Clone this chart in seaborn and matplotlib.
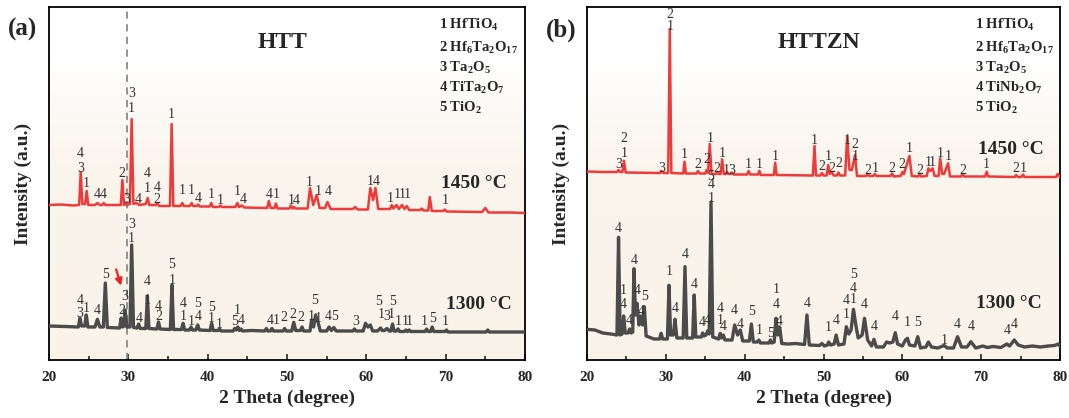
import numpy as np
import pandas as pd
import matplotlib
matplotlib.use("Agg")
import matplotlib.pyplot as plt
from matplotlib.colors import LinearSegmentedColormap
from matplotlib.ticker import MultipleLocator
import seaborn as sns

sns.set_style("ticks")
plt.rcParams['font.family'] = ['Liberation Serif', 'DejaVu Serif']
plt.rcParams['mathtext.fontset'] = 'custom'
plt.rcParams['mathtext.rm'] = 'Liberation Serif:bold'
plt.rcParams['mathtext.bf'] = 'Liberation Serif:bold'
plt.rcParams['mathtext.default'] = 'bf'

# ---------------- data (2 theta, intensity a.u.) ----------------
# (a) HTT, 1450 C
htt_1450_x = [20, 21.5, 23.0, 23.8, 24.0, 24.2, 24.55, 24.75, 24.95, 25.8, 26.1, 26.4, 26.7, 26.9, 27.1,
              29.05, 29.25, 29.45, 29.6, 29.8, 30.2, 30.42, 30.64, 31.0, 31.2, 31.4, 32.2, 32.44, 32.65,
              33.45, 33.66, 33.85, 35.25, 35.46, 35.67, 36.6, 36.8, 37.0, 37.75, 37.98, 38.15, 38.6, 38.8,
              39.0, 40.25, 40.46, 40.65, 41.4, 41.6, 41.8, 43.5, 43.74, 43.95, 44.3, 44.6, 47.5, 47.7,
              47.95, 48.4, 48.6, 48.8, 50.3, 50.5, 50.7, 50.9, 51.1, 52.6, 52.9, 53.3, 53.75, 54.1, 54.8,
              55.1, 55.5, 58.3, 58.6, 58.9, 60.2, 60.5, 60.85, 61.15, 61.5, 63.0, 63.2, 63.4, 63.8, 64.1,
              64.5, 64.8, 65.1, 65.4, 66.8, 67.0, 67.2, 67.8, 68.0, 68.25, 69.7, 69.9, 70.1, 74.6, 75.0,
              75.4, 78.0, 80]
htt_1450_y = [155, 155.5, 154.5, 155, 188, 156, 156, 169, 155, 155, 157, 155, 155, 157, 155,
              155, 180, 155, 157, 155, 156, 241, 156, 157, 156, 155, 156, 162, 155,
              155, 157, 154, 154, 236, 154, 154, 157, 154, 154, 157, 154, 154, 155.5,
              153.5, 153.5, 157, 153, 153, 154.5, 153, 153, 157, 153, 154.5, 152.5, 152, 159,
              152, 152, 156.5, 151.5, 151.5, 154.5, 151.5, 153, 151.5, 151.5, 172, 155, 165, 152, 152,
              158, 151, 151, 153, 150.5, 150.5, 172, 160, 172, 151, 151, 155, 151.5, 155, 151,
              155, 151, 154, 150, 150, 151.5, 149.5, 149.5, 163, 149, 149, 150.5, 148.5, 148, 152,
              147.5, 147.5, 147]
htt_1450_labels = [("3", 24.0, 191.7), ("4", 24.0, 206.7), ("1", 24.75, 176.7), ("4", 26.1, 165),
                   ("4", 26.9, 165), ("2", 29.24, 186.7), ("3", 29.8, 160.7), ("1", 30.42, 251.7),
                   ("3", 30.42, 266.7), ("4", 31.2, 160.7), ("1", 32.44, 171.7), ("4", 32.44, 186.7),
                   ("2", 33.66, 160.7), ("4", 33.66, 172.7), ("1", 35.46, 246), ("1", 36.8, 169.3),
                   ("1", 37.9, 169.3), ("4", 38.8, 161.7), ("1", 40.46, 165), ("1", 41.6, 159.3),
                   ("1", 43.7, 168.3), ("4", 44.45, 160.7), ("4", 47.7, 165), ("1", 48.65, 165),
                   ("1", 50.5, 160), ("4", 51.2, 160), ("1", 52.8, 177.3), ("1", 53.9, 168.3),
                   ("4", 55.2, 168.3), ("1", 60.5, 178.3), ("4", 61.2, 178.3), ("1", 63.0, 162),
                   ("1", 63.9, 166), ("1", 64.5, 166), ("1", 65.2, 166), ("1", 69.9, 160)]

# (a) HTT, 1300 C
htt_1300_x = [20, 22, 23.7, 23.9, 24.1, 24.5, 24.7, 24.9, 25.8, 26.1, 26.4, 26.85, 27.1, 27.35,
              28.9, 29.1, 29.3, 29.45, 29.6, 29.8, 30.2, 30.42, 30.65, 31.1, 31.3, 31.5, 32.2, 32.4,
              32.6, 33.6, 33.8, 34.0, 35.3, 35.5, 35.7, 36.7, 36.9, 37.1, 37.7, 37.9, 38.1, 38.5,
              38.75, 38.95, 40.3, 40.5, 40.7, 41.3, 41.5, 41.7, 43.2, 43.4, 43.6, 43.8, 44.0, 44.2,
              44.4, 45.5, 47.2, 47.4, 47.6, 47.9, 48.1, 48.3, 49.5, 49.7, 49.9, 50.6, 50.85, 51.1,
              51.7, 51.9, 52.1, 52.9, 53.1, 53.35, 53.6, 53.9, 54.2, 55.0, 55.3, 55.6, 55.9, 56.2,
              58.3, 58.5, 58.7, 59.6, 59.9, 60.2, 60.5, 60.8, 61.4, 61.8, 62.0, 62.3, 62.6, 62.9,
              63.1, 63.3, 63.5, 63.8, 64.0, 64.2, 64.8, 65.0, 65.2, 65.4, 65.6, 67.4, 67.6, 67.8,
              68.1, 68.3, 68.5, 69.9, 70.1, 70.3, 75.1, 75.3, 75.5, 80]
htt_1300_y = [34, 33.5, 33, 41.7, 34, 34, 45, 33, 33, 40.7, 33, 33, 77, 32.5,
              32, 42, 33, 34, 50, 33, 33, 115, 32.5, 32, 36, 31.5, 31.5, 64,
              31.5, 31, 38, 31, 30.5, 75, 30.5, 30.5, 36.7, 30, 30, 33, 30, 30,
              35, 30, 29.5, 36.7, 29.5, 29.5, 31, 29, 29, 31.5, 30, 33, 29.5, 31,
              29, 29.5, 29, 31.5, 29, 29, 31.5, 29, 29, 31.5, 29, 29, 37.7, 29.5,
              29.5, 33, 29, 29, 40, 33, 45, 38, 29, 29, 33, 29.5, 32.5, 29,
              29, 31, 29, 29, 36.7, 33, 35, 29, 29, 32, 29.5, 29.5, 31.5, 29,
              29, 36, 29, 29, 31, 28.5, 28.5, 30, 28.5, 30, 28.5, 28.5, 31, 28.5,
              28.5, 33, 28.5, 28.5, 30, 28, 28, 30, 28, 28]
htt_1300_labels = [("3", 23.9, 46.7), ("4", 23.9, 60), ("1", 24.75, 51.7), ("4", 26.1, 50),
                   ("5", 27.1, 85), ("2", 29.15, 50), ("3", 29.6, 63.3), ("1", 30.42, 121.7),
                   ("3", 30.42, 135), ("4", 31.35, 41.7), ("1", 32.4, 60), ("4", 32.4, 78.3),
                   ("2", 33.8, 43.3), ("4", 33.8, 54), ("1", 35.5, 80), ("5", 35.5, 95),
                   ("1", 36.9, 43.3), ("4", 36.9, 56.7), ("1", 37.9, 38.3), ("4", 38.75, 43.3),
                   ("5", 38.75, 56.7), ("1", 40.5, 41.7), ("5", 40.5, 52.7), ("1", 41.5, 36),
                   ("5", 43.4, 38.3), ("1", 43.75, 50), ("4", 44.25, 40), ("4", 47.9, 40),
                   ("1", 48.6, 40), ("2", 49.65, 42.7), ("2", 50.75, 46), ("2", 51.75, 42.7),
                   ("1", 53.1, 43.3), ("5", 53.5, 60), ("1", 54.0, 41.7), ("4", 55.2, 43.3),
                   ("5", 56.0, 43.3), ("3", 58.6, 38.3), ("5", 61.6, 58.3), ("1", 61.9, 45),
                   ("3", 62.6, 43.3), ("1", 63.2, 45), ("5", 63.3, 58.3), ("1", 64.0, 38.3),
                   ("1", 64.9, 38.3), ("1", 65.4, 38.3), ("1", 67.3, 38.3), ("5", 68.3, 41.7),
                   ("1", 69.9, 38.3)]

# (b) HTTZN, 1450 C
httzn_1450_x = [20, 22, 23.8, 24.0, 24.2, 24.5, 24.68, 24.9, 29.3, 29.5, 29.7, 30.3, 30.5, 30.7,
                32.2, 32.37, 32.55, 33.9, 34.08, 34.3, 35.0, 35.17, 35.35, 35.57, 35.8, 36.35, 36.53,
                36.7, 36.95, 37.14, 37.35, 37.6, 37.75, 37.95, 38.2, 38.4, 38.6, 40.3, 40.5, 40.7,
                41.7, 41.86, 42.05, 43.7, 43.87, 44.05, 48.65, 48.86, 49.05, 49.6, 49.8, 50.0, 50.4,
                50.6, 50.8, 51.05, 51.3, 51.7, 51.9, 52.1, 52.75, 53.0, 53.3, 53.6, 54.0, 54.25, 55.4,
                55.6, 55.8, 56.3, 56.5, 56.7, 58.5, 58.7, 58.9, 59.8, 60.0, 60.2, 60.9, 61.2, 62.0,
                62.2, 62.4, 63.1, 63.3, 63.55, 63.85, 64.1, 64.6, 64.8, 65.05, 65.3, 65.8, 66.05,
                67.45, 67.66, 67.85, 70.5, 70.7, 70.9, 74.25, 74.44, 74.65, 75.1, 75.3, 75.5, 79.5,
                79.7, 80]
httzn_1450_y = [188.5, 188, 188, 190, 188, 188, 199.3, 187.5, 187, 189, 187, 187, 331, 187,
                186.5, 198.3, 186.5, 186.5, 189, 186.5, 186.5, 190, 187, 216, 186, 186, 188,
                186, 186, 200.7, 186, 186, 188, 186, 186, 187.5, 185.5, 185.5, 189, 185.5,
                185.5, 189.3, 185, 185, 197.3, 185, 184.5, 214, 184.5, 184.5, 187, 184.5, 184.5,
                195, 186, 188, 184.5, 184.5, 187.5, 184.5, 184.5, 223.3, 190, 190, 205, 184, 184,
                186, 184, 184, 186, 184, 184, 186.5, 183.5, 184, 188, 186, 204, 184, 183.5,
                186, 183.5, 184, 191.7, 189, 191.7, 184, 184, 201.7, 186, 186, 196.7, 183.5,
                183.5, 186, 183.5, 183.5, 188.3, 183.5, 183, 185, 183, 183, 185.5, 183, 183,
                186, 183]
httzn_1450_labels = [("3", 24.0, 196), ("1", 24.68, 206.7), ("2", 24.68, 221.7), ("3", 29.5, 191.7),
                     ("1", 30.5, 333), ("2", 30.5, 346), ("1", 32.37, 205), ("2", 34.08, 195),
                     ("2", 35.17, 200.7), ("1", 35.57, 221.7), ("2", 36.53, 191.7), ("1", 37.14, 206.7),
                     ("1", 37.7, 190), ("3", 38.4, 190), ("1", 40.5, 195), ("1", 41.86, 196),
                     ("1", 43.87, 204), ("1", 48.86, 219.3), ("2", 49.8, 193.3), ("1", 50.6, 203.3),
                     ("2", 51.05, 191.7), ("2", 51.9, 196.7), ("1", 53.0, 220), ("1", 54.0, 203.3),
                     ("2", 54.0, 215), ("2", 55.6, 190), ("1", 56.5, 191.7), ("2", 58.7, 191),
                     ("2", 60.0, 195), ("1", 60.9, 211.7), ("2", 62.2, 190), ("1", 63.3, 197.3),
                     ("1", 63.85, 197.3), ("1", 64.8, 206.7), ("1", 65.8, 204), ("2", 67.66, 190),
                     ("1", 70.7, 196), ("2", 74.44, 191.7), ("1", 75.3, 191.7)]

# (b) HTTZN, 1300 C
httzn_1300_x = [20, 21, 22, 23, 23.8, 24.0, 24.2, 24.45, 24.65, 24.85, 25.2, 25.4, 25.6, 25.8, 25.96,
                26.15, 26.34, 26.6, 26.85, 27.05, 27.27, 27.5, 28.5, 29.2, 29.4, 29.6, 30.2, 30.4, 30.6,
                30.95, 31.16, 31.4, 32.2, 32.43, 32.65, 33.4, 33.6, 33.8, 34.5, 34.67, 34.85, 35.1,
                35.3, 35.5, 35.73, 35.95, 36.7, 36.9, 37.1, 37.3, 37.5, 38.4, 38.73, 39.1, 39.45,
                39.75, 40.6, 40.85, 41.1, 41.6, 41.8, 42.0, 43.1, 43.26, 43.45, 43.75, 43.97, 44.2,
                44.44, 44.7, 45.5, 46.5, 47.6, 47.9, 48.2, 49.5, 49.8, 50.1, 50.5, 50.65, 50.9, 51.35,
                51.6, 51.9, 52.6, 52.9, 53.2, 53.5, 53.8, 54.1, 54.4, 54.9, 55.2, 55.6, 56.1, 56.4,
                56.7, 57.6, 58.0, 58.4, 58.8, 59.1, 59.4, 60.0, 60.4, 60.65, 60.9, 61.6, 61.96, 62.3,
                63.0, 63.3, 63.7, 64.5, 65.3, 65.7, 66.5, 67.0, 67.5, 68.2, 68.7, 69.3, 70.2, 70.8,
                71.5, 72.5, 73.26, 73.6, 74.2, 74.7, 75.5, 76.5, 77.5, 78.5, 79.3, 79.8, 80]
httzn_1300_y = [30.7, 30, 27, 26, 25, 122.7, 25, 26, 44, 27, 27, 31, 27, 28, 91.3,
                45, 56.7, 35, 44, 35, 53.3, 24, 21, 21, 26.7, 21, 21, 74.7, 25,
                25, 40.7, 22, 22, 93.3, 22, 22, 65, 23, 23, 27, 24, 25,
                29, 26, 158, 23, 21, 26.7, 22, 25, 20, 20, 35, 25, 30,
                19, 19, 36, 18, 18, 20, 17, 17, 20, 17, 18, 41.7, 25,
                33, 16.5, 16, 16.5, 15.5, 45, 15, 14.5, 16.5, 14, 15, 18, 15, 16,
                25, 15, 16, 33.3, 26, 30, 50.7, 35, 22, 25, 41.7, 20, 14, 20.7,
                13, 13, 18, 17, 18, 27.3, 16, 14, 20, 21.7, 15, 14, 23.3, 12,
                13, 18, 13, 12, 14.5, 12, 12, 23.3, 13, 13, 18.3, 12, 14, 12.5,
                13.5, 12.5, 16, 14, 20, 15, 13, 14, 13, 14, 14.5, 16, 14]
httzn_1300_labels = [("4", 24.0, 131.7), ("4", 24.65, 56), ("1", 24.65, 70), ("4", 25.4, 40),
                     ("4", 25.96, 100), ("4", 26.34, 70), ("4", 26.85, 48.3), ("5", 27.27, 63.3),
                     ("1", 30.4, 88.3), ("4", 31.16, 51.7), ("4", 32.43, 105), ("4", 33.6, 75),
                     ("4", 34.67, 37.3), ("4", 35.3, 40), ("1", 35.73, 162), ("4", 35.73, 175),
                     ("5", 35.73, 183), ("1", 36.9, 40), ("4", 36.9, 51.7), ("4", 37.3, 33.3),
                     ("4", 38.73, 50), ("4", 39.45, 36), ("5", 40.85, 48.3), ("1", 41.8, 30),
                     ("5", 43.26, 26.7), ("4", 43.97, 55), ("1", 43.97, 70.7), ("4", 44.44, 38.3),
                     ("4", 47.9, 56.7), ("1", 50.65, 32.7), ("4", 51.6, 40), ("1", 52.9, 45),
                     ("4", 52.9, 60), ("1", 53.8, 60.7), ("4", 53.8, 71.7), ("5", 53.8, 86),
                     ("4", 55.2, 56), ("4", 56.4, 34), ("4", 59.1, 43.3), ("1", 60.65, 37.3),
                     ("5", 61.96, 37.3), ("1", 65.3, 20), ("4", 67.0, 36), ("4", 68.7, 33.3),
                     ("4", 73.26, 29.3), ("4", 74.2, 35)]

phases_a = ["1 HfTiO$_4$", "2 Hf$_6$Ta$_2$O$_{17}$", "3 Ta$_2$O$_5$", "4 TiTa$_2$O$_7$", "5 TiO$_2$"]
phases_b = ["1 HfTiO$_4$", "2 Hf$_6$Ta$_2$O$_{17}$", "3 Ta$_2$O$_5$", "4 TiNb$_2$O$_7$", "5 TiO$_2$"]

RED = "#f03a3a"
GREY = "#4b4b4b"

fig = plt.figure(figsize=(10.69, 4.18), dpi=100)
ax1 = fig.add_axes([49 / 1069, 58 / 418, 476 / 1069, 353 / 418])
ax2 = fig.add_axes([587 / 1069, 58 / 418, 473 / 1069, 353 / 418])

bg = LinearSegmentedColormap.from_list("bg", [(0, "#f9f3e9"), (0.55, "#faf5ed"), (0.85, "#ffffff"), (1, "#ffffff")])
grad = np.linspace(0, 1, 256).reshape(-1, 1)


def draw_panel(ax, hi_x, hi_y, hi_lab, lo_x, lo_y, lo_lab, title, phases, tag):
    ax.imshow(grad, extent=[0, 1, 0, 1], transform=ax.transAxes, aspect="auto",
              cmap=bg, origin="lower", zorder=0)
    df_hi = pd.DataFrame({"tt": hi_x, "I": hi_y})
    df_lo = pd.DataFrame({"tt": lo_x, "I": lo_y})
    sns.lineplot(data=df_lo, x="tt", y="I", ax=ax, color=GREY, lw=2.4, estimator=None, sort=False, zorder=3)
    sns.lineplot(data=df_hi, x="tt", y="I", ax=ax, color=RED, lw=1.8, estimator=None, sort=False, zorder=4)
    for t, x, y in hi_lab + lo_lab:
        ax.text(x, y, t, ha="center", va="center", fontsize=10, color="#333333", zorder=5)

    ax.set_xlim(20, 80)
    ax.set_ylim(0, 353)
    ax.set_yticks([])
    ax.xaxis.set_major_locator(MultipleLocator(10))
    ax.xaxis.set_minor_locator(MultipleLocator(5))
    ax.tick_params(axis="x", which="major", direction="in", length=4, width=1.2, pad=8)
    ax.tick_params(axis="x", which="minor", direction="in", length=3, width=1.2)
    for lbl in ax.get_xticklabels():
        lbl.set_fontweight("bold")
        lbl.set_fontsize(11)
    for sp in ax.spines.values():
        sp.set_visible(True)
        sp.set_linewidth(1.3)
        sp.set_color("black")
    ax.set_xlabel("2 Theta (degree)", fontsize=14, fontweight="bold", labelpad=4)
    ax.set_ylabel("Intensity (a.u.)", fontsize=14, fontweight="bold", labelpad=12)

    ax.text(0.49, 0.90, title, transform=ax.transAxes, ha="center", va="center",
            fontsize=17, fontweight="bold")
    legend_y = [0.949, 0.883, 0.826, 0.770, 0.713]
    for name, yy in zip(phases, legend_y):
        ax.text(0.82, yy, name, transform=ax.transAxes, ha="left", va="center",
                fontsize=10.5, fontweight="bold")
    ax.text(-0.055, 0.935, tag, transform=ax.transAxes, ha="center", va="center",
            fontsize=18, fontweight="bold")


draw_panel(ax1, htt_1450_x, htt_1450_y, htt_1450_labels, htt_1300_x, htt_1300_y, htt_1300_labels,
           "HTT", phases_a, "(a)")
ax1.text(0.824, 0.50, "1450 °C", transform=ax1.transAxes, ha="left", va="center", fontsize=14, fontweight="bold")
ax1.text(0.835, 0.156, "1300 °C", transform=ax1.transAxes, ha="left", va="center", fontsize=14, fontweight="bold")
ax1.axvline(29.85, color="#8a8a8a", lw=1.3, ls=(0, (4, 3)), zorder=2)
ax1.annotate("", xy=(29.2, 71.7), xytext=(28.35, 93.3),
             arrowprops=dict(arrowstyle="-|>", color="#ee2222", lw=1.6, mutation_scale=10), zorder=6)

draw_panel(ax2, httzn_1450_x, httzn_1450_y, httzn_1450_labels, httzn_1300_x, httzn_1300_y, httzn_1300_labels,
           "HTTZN", phases_b, "(b)")
ax2.text(0.827, 0.595, "1450 °C", transform=ax2.transAxes, ha="left", va="center", fontsize=14, fontweight="bold")
ax2.text(0.823, 0.161, "1300 °C", transform=ax2.transAxes, ha="left", va="center", fontsize=14, fontweight="bold")

fig.savefig("out.png", dpi=100, facecolor="white")
